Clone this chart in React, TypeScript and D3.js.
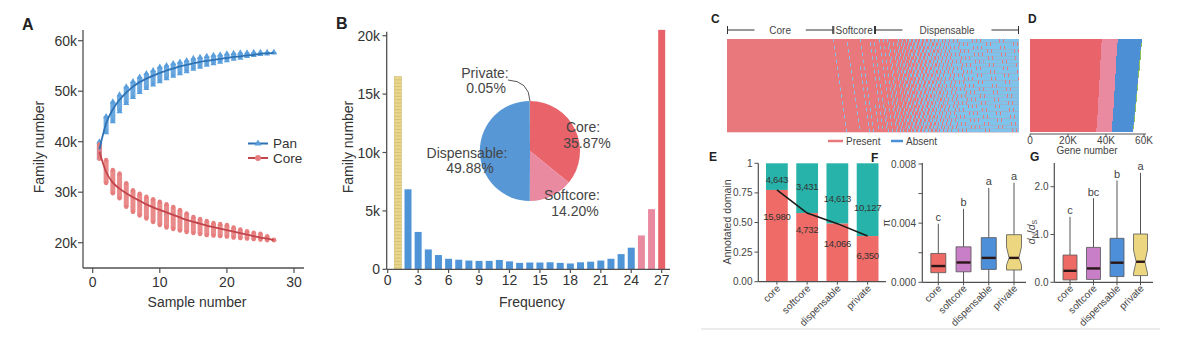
import React from 'react';
import * as d3 from 'd3';

const FONT = '"Liberation Sans", Arial, Helvetica, sans-serif';

// ---------- Panel A: pan / core family accumulation ----------
const sampleNumbers = [1,2,3,4,5,6,7,8,9,10,11,12,13,14,15,16,17,18,19,20,21,22,23,24,25,26,27];
const panMeanK = [38.5,43.6,46.4,48.3,49.7,50.9,51.8,52.5,53.1,53.6,54.1,54.5,54.9,55.2,55.5,55.8,56.0,56.2,56.4,56.6,56.8,56.9,57.1,57.2,57.4,57.5,57.6];
const panLoK = [36.8,41.8,44.0,46.0,47.6,48.8,49.8,50.6,51.3,51.9,52.5,53.0,53.5,53.9,54.4,54.8,55.2,55.5,55.8,56.1,56.4,56.6,56.9,57.1,57.3,57.4,57.6];
const panHiK = [40.0,45.0,47.9,49.3,50.9,51.9,52.8,53.5,54.1,54.8,55.1,55.5,55.8,56.1,56.5,56.7,56.9,57.1,57.2,57.4,57.5,57.6,57.6,57.7,57.7,57.7,57.7];
const coreMeanK = [38.0,34.0,31.9,30.7,29.8,29.0,28.3,27.6,27.0,26.5,26.0,25.5,25.0,24.5,24.1,23.8,23.4,23.1,22.8,22.5,22.2,21.9,21.6,21.3,21.0,20.8,20.5];
const coreLoK = [36.6,31.8,29.8,28.8,27.1,26.1,25.4,24.8,24.1,23.5,23.0,22.7,22.4,22.1,21.9,21.7,21.5,21.4,21.3,21.2,21.0,20.9,20.8,20.7,20.6,20.5,20.5];
const coreHiK = [39.5,36.4,34.4,33.7,31.8,30.4,29.7,29.1,28.6,28.1,27.6,27.1,26.5,25.8,25.1,24.7,24.3,23.9,23.7,23.5,23.0,22.6,22.3,22.0,21.8,21.3,20.6];
const aYTicks = [20000, 30000, 40000, 50000, 60000];
const aXTicks = [0, 10, 20, 30];

// ---------- Panel B: frequency histogram + pie ----------
const frequencies = [1,2,3,4,5,6,7,8,9,10,11,12,13,14,15,16,17,18,19,20,21,22,23,24,25,26,27];
const familyCounts = [16500,6850,3200,1700,1220,900,820,750,720,720,800,680,550,580,580,600,550,500,600,650,750,900,1300,1850,2900,5150,20500];
const bXTicks = [0,3,6,9,12,15,18,21,24,27];
const bYTicks = [0,5000,10000,15000,20000];
const pieNames = ['Core','Softcore','Dispensable','Private'];
const piePercents = [35.87, 14.20, 49.88, 0.05];

// ---------- Panel C ----------
const groupNames = ['Core','Softcore','Dispensable'];
const heatLegend = ['Present','Absent'];

// ---------- Panel D: gene numbers per sample (K) ----------
const dCoreK = [37.8,37.6,37.5,37.5,37.3,37.2,37.1,37.0,36.9,36.8,36.8,36.6,36.5,36.4,36.3,36.2,36.1,36.0,35.9,35.8,35.7,35.6,35.4,35.3,35.1,35.0,34.8];
const dSoftK = [8.4,8.3,8.4,8.2,8.3,8.3,8.2,8.3,8.2,8.3,8.1,8.2,8.2,8.3,8.2,8.2,8.3,8.2,8.2,8.3,8.2,8.2,8.3,8.2,8.3,8.2,8.3];
const dDispK = [12.6,12.5,12.4,12.4,12.3,12.3,12.2,12.1,12.1,12.0,12.0,11.9,11.9,11.8,11.7,11.7,11.6,11.6,11.5,11.4,11.4,11.3,11.2,11.2,11.1,11.0,10.9];
const dPrivK = [0.3,0.4,0.3,0.5,0.3,0.4,0.3,0.4,0.5,0.3,0.4,0.3,0.4,0.3,0.5,0.4,0.3,0.4,0.3,0.4,0.5,0.3,0.4,0.3,0.4,0.3,0.4];
const dTicks = [0, 20, 40, 60];

// ---------- Panel E ----------
const categories = ['core','softcore','dispensable','private'];
const withDomain = [15980, 4732, 14066, 6350];
const withoutDomain = [4643, 3431, 14613, 10127];
const eTicks = [0, 0.25, 0.5, 0.75, 1];
const eTickLabels = ['0.00','0.25','0.50','0.75','1'];

// ---------- Panel F: pi ----------
const piLow = [0, 0, 0, 0];
const piQ1 = [0.00065, 0.00071, 0.00087, 0.00083];
const piMedian = [0.0011, 0.00134, 0.00165, 0.00165];
const piQ3 = [0.00195, 0.0024, 0.00302, 0.00322];
const piHigh = [0.00396, 0.00497, 0.00638, 0.00673];
const piNotchLo = [null, null, null, 0.00116];
const piNotchHi = [null, null, null, 0.0024];
const piLetters = ['c','b','a','a'];

// ---------- Panel G: dN/dS ----------
const gLow = [0, 0, 0, 0];
const gQ1 = [0.05, 0.06, 0.12, 0.14];
const gMedian = [0.24, 0.29, 0.41, 0.43];
const gQ3 = [0.57, 0.73, 0.92, 1.01];
const gHigh = [1.37, 1.76, 2.13, 2.29];
const gNotchLo = [null, null, null, 0.19];
const gNotchHi = [null, null, null, 0.675];
const gLetters = ['c','bc','b','a'];

const catColors = ['#ee6a64', '#c97fc8', '#4d8fd8', '#ecd780'];

const AX = '#505050';
const TX = '#333';

function BoxPanel(props: any) {
  const { y, xs, low, q1, med, q3, high, nlo, nhi, letters, bw, axisX, axisTop, axisRight } = props;
  const base = y(0);
  return (
    <g>
      {categories.map((c, i) => {
        const cx = xs(c);
        const x0 = cx - bw / 2, x1 = cx + bw / 2;
        const notched = nlo[i] != null;
        const inset = 2.6;
        let d;
        if (notched) {
          d = `M${x0},${y(q3[i])}H${x1}V${y(nhi[i])}L${x1 - inset},${y(med[i])}L${x1},${y(nlo[i])}V${y(q1[i])}H${x0}V${y(nlo[i])}L${x0 + inset},${y(med[i])}L${x0},${y(nhi[i])}Z`;
        } else {
          d = `M${x0},${y(q3[i])}H${x1}V${y(q1[i])}H${x0}Z`;
        }
        return (
          <g key={c}>
            <line x1={cx} x2={cx} y1={y(high[i])} y2={y(q3[i])} stroke="#555" strokeWidth={1} />
            <line x1={cx} x2={cx} y1={y(q1[i])} y2={y(low[i])} stroke="#555" strokeWidth={1} />
            <path d={d} fill={catColors[i]} stroke="#555" strokeWidth={0.8} />
            <line x1={notched ? x0 + inset : x0 + 0.5} x2={notched ? x1 - inset : x1 - 0.5} y1={y(med[i])} y2={y(med[i])} stroke="#2a1616" strokeWidth={2.4} />
            <text x={cx} y={y(high[i]) - 2.5} textAnchor="middle" fontSize={11} fill="#444">{letters[i]}</text>
            <line x1={cx} x2={cx} y1={base} y2={base + 3} stroke={AX} />
            <text transform={`translate(${cx + 4},${289}) rotate(-45)`} textAnchor="end" fontSize={10} fill="#444">{c}</text>
          </g>
        );
      })}
      <line x1={axisX} x2={axisX} y1={axisTop} y2={base} stroke={AX} strokeWidth={1.2} />
      <line x1={axisX} x2={axisRight} y1={base} y2={base} stroke={AX} strokeWidth={1.2} />
    </g>
  );
}

export default function App() {
  // ---------------- A ----------------
  const xA = d3.scaleLinear().domain([0, 30]).range([92.7, 294]);
  const yA = d3.scaleLinear().domain([20000, 60000]).range([242.7, 40.7]);
  const lineA = (vals: number[]) =>
    d3.line<number>().x((_, i) => xA(sampleNumbers[i])).y((v) => yA(v * 1000)).curve(d3.curveMonotoneX)(vals) || '';
  const tri = d3.symbol(d3.symbolTriangle, 16)() || '';
  const triLeg = d3.symbol(d3.symbolTriangle, 22)() || '';
  const panPt = '#5a9fdc', panLn = '#2d72b4', corePt = '#e77e7e', coreLn = '#c2444b';

  // ---------------- B ----------------
  const xB = d3.scaleLinear().domain([0, 27]).range([387.7, 661.7]);
  const yB = d3.scaleLinear().domain([0, 20000]).range([269.3, 35.7]);
  const barW = 7;
  const freqColor = (f: number) => (f === 1 ? '#e9d78c' : f <= 24 ? '#4f94d6' : f <= 26 ? '#e98aa1' : '#e8626a');
  const pieData = d3.pie<number>().sort(null)(piePercents);
  const arcB = d3.arc<d3.PieArcDatum<number>>().innerRadius(0).outerRadius(50);
  const pieCol = ['#e8636a', '#e98aa1', '#5797d6', '#eed98a'];
  const pcx = 530, pcy = 151;

  // ---------------- C ----------------
  const heatFreqs = frequencies.filter((f) => f >= 2).sort((a, b) => b - a);
  let cum = 0;
  const bins = heatFreqs.map((f) => {
    const c = familyCounts[f - 1];
    const b = { f, x0: cum, x1: cum + c };
    cum += c;
    return b;
  });
  const xC = d3.scaleLinear().domain([0, cum]).range([727, 1019]);
  const nRows = sampleNumbers.length;
  const yC = d3.scaleBand<number>().domain(sampleNumbers).range([39, 132.3]);
  const rowPaths: string[] = sampleNumbers.map((s, r) => {
    const segs: [number, number][] = [];
    bins.forEach((b) => {
      const px0 = xC(b.x0), px1 = xC(b.x1);
      for (let j = Math.floor(px0); j < Math.ceil(px1); j++) {
        const a = Math.max(px0, j), e = Math.min(px1, j + 1);
        if (e <= a) continue;
        if ((10 * r + 7 * j) % nRows >= b.f) {
          const last = segs[segs.length - 1];
          if (last && Math.abs(last[1] - a) < 1e-6) last[1] = e;
          else segs.push([a, e]);
        }
      }
    });
    const y0 = yC(s)!, y1 = y0 + yC.bandwidth();
    return segs.map(([a, e]) => `M${a},${y0}H${e}V${y1}H${a}Z`).join('');
  });
  const groupBounds = [
    [bins.find((b) => b.f === 27)!.x0, bins.find((b) => b.f === 27)!.x1],
    [bins.find((b) => b.f === 26)!.x0, bins.find((b) => b.f === 25)!.x1],
    [bins.find((b) => b.f === 24)!.x0, bins.find((b) => b.f === 2)!.x1],
  ];

  // ---------------- D ----------------
  const xD = d3.scaleLinear().domain([0, 60]).range([1030, 1144]);
  const yD = d3.scaleBand<number>().domain(sampleNumbers).range([39.3, 131.7]);
  const dCols = ['#e8646a', '#e98aa1', '#4d8fd5', '#8cbf5c'];

  // ---------------- E ----------------
  const xE = d3.scaleBand<string>().domain(categories).range([758.3, 886.2]).paddingInner(0.28).paddingOuter(0.255);
  const yE = d3.scaleLinear().domain([0, 1]).range([281.7, 163.3]);
  const fracs = withDomain.map((w, i) => w / (w + withoutDomain[i]));
  const lineE = d3.line<number>().x((_, i) => xE(categories[i])! + xE.bandwidth() / 2).y((v) => yE(v))(fracs) || '';
  const fmt = d3.format(',');
  const eTopOffset = [-7.4, -23, -21.4, -25.4];
  const eBotOffset = [30, 20.3, 23.6, 23.2];

  // ---------------- F / G ----------------
  const yF = d3.scaleLinear().domain([0, 0.008]).range([282.3, 164]);
  const xF = d3.scalePoint<string>().domain(categories).range([938.3, 1014]);
  const yG = d3.scaleLinear().domain([0, 2.5]).range([282.3, 162.8]);
  const xG = d3.scalePoint<string>().domain(categories).range([1070, 1140.5]);

  return (
    <svg width={1197} height={356} style={{ position: 'absolute', left: 0, top: 0, background: '#fff' }} fontFamily={FONT}>
      <rect width={1197} height={356} fill="#fff" />
      {/* ================= A ================= */}
      <text x={22} y={30} fontSize={16} fontWeight="bold" fill="#222">A</text>
      {sampleNumbers.map((n, i) => (
        <g key={'pa' + n}>
          <rect x={xA(n) - 2.5} width={5} y={yA(panHiK[i] * 1000)} height={Math.max(1.5, yA(panLoK[i] * 1000) - yA(panHiK[i] * 1000))} fill={panPt} opacity={0.9} />
          <path d={tri} transform={`translate(${xA(n)},${yA(panLoK[i] * 1000)})`} fill={panPt} />
          <path d={tri} transform={`translate(${xA(n)},${yA(panHiK[i] * 1000)})`} fill={panPt} />
        </g>
      ))}
      {sampleNumbers.map((n, i) => (
        <g key={'ca' + n}>
          <rect x={xA(n) - 2.5} width={5} y={yA(coreHiK[i] * 1000)} height={Math.max(1.5, yA(coreLoK[i] * 1000) - yA(coreHiK[i] * 1000))} fill={corePt} opacity={0.9} />
          <circle cx={xA(n)} cy={yA(coreLoK[i] * 1000)} r={2.2} fill={corePt} />
          <circle cx={xA(n)} cy={yA(coreHiK[i] * 1000)} r={2.2} fill={corePt} />
        </g>
      ))}
      <path d={lineA(panMeanK)} fill="none" stroke={panLn} strokeWidth={1.8} />
      <path d={lineA(coreMeanK)} fill="none" stroke={coreLn} strokeWidth={1.8} />
      <line x1={83} x2={83} y1={30} y2={268} stroke={AX} strokeWidth={1.3} />
      <line x1={83} x2={304} y1={268} y2={268} stroke={AX} strokeWidth={1.3} />
      {aYTicks.map((t) => (
        <g key={'ayt' + t}>
          <line x1={78} x2={83} y1={yA(t)} y2={yA(t)} stroke={AX} strokeWidth={1.2} />
          <text x={77} y={yA(t) + 5} textAnchor="end" fontSize={14} fill={TX}>{t / 1000 + 'k'}</text>
        </g>
      ))}
      {aXTicks.map((t) => (
        <g key={'axt' + t}>
          <line x1={xA(t)} x2={xA(t)} y1={268} y2={273} stroke={AX} strokeWidth={1.2} />
          <text x={xA(t)} y={287} textAnchor="middle" fontSize={14} fill={TX}>{t}</text>
        </g>
      ))}
      <text x={197} y={307} textAnchor="middle" fontSize={14} fill={TX}>Sample number</text>
      <text transform="translate(44,147) rotate(-90)" textAnchor="middle" fontSize={14} fill={TX}>Family number</text>
      <line x1={248} x2={268} y1={143.5} y2={143.5} stroke={panLn} strokeWidth={2} />
      <path d={triLeg} transform="translate(258,143.5)" fill={panPt} />
      <text x={273} y={148} fontSize={13.5} fill={TX}>Pan</text>
      <line x1={248} x2={268} y1={158} y2={158} stroke={coreLn} strokeWidth={2} />
      <circle cx={258} cy={158} r={3} fill={corePt} />
      <text x={273} y={163} fontSize={13.5} fill={TX}>Core</text>

      {/* ================= B ================= */}
      <text x={336} y={29} fontSize={16} fontWeight="bold" fill="#222">B</text>
      {frequencies.map((f, i) => {
        const x = xB(f) - barW / 2;
        const y = yB(familyCounts[i]);
        const h = yB(0) - y;
        return (
          <g key={'bb' + f}>
            <rect x={x} y={y} width={barW} height={h} fill={freqColor(f)} />
            {f === 1 &&
              d3.range(y + 3.3, yB(0), 3.3).map((yy) => (
                <line key={yy} x1={x} x2={x + barW} y1={yy} y2={yy} stroke="#c7b266" strokeWidth={0.6} />
              ))}
            {f === 1 && <rect x={x} y={y} width={barW} height={h} fill="none" stroke="#cdb96e" strokeWidth={0.6} />}
          </g>
        );
      })}
      <line x1={386.7} x2={386.7} y1={31.7} y2={269.3} stroke={AX} strokeWidth={1.3} />
      <line x1={386.7} x2={670} y1={269.3} y2={269.3} stroke={AX} strokeWidth={1.3} />
      {bYTicks.map((t) => (
        <g key={'byt' + t}>
          <line x1={382.5} x2={386.7} y1={yB(t)} y2={yB(t)} stroke={AX} strokeWidth={1.2} />
          <text x={380} y={yB(t) + 5} textAnchor="end" fontSize={14} fill={TX}>{t === 0 ? '0' : t / 1000 + 'k'}</text>
        </g>
      ))}
      {bXTicks.map((t) => (
        <g key={'bxt' + t}>
          <line x1={xB(t)} x2={xB(t)} y1={269.3} y2={273} stroke={AX} strokeWidth={1.2} />
          <text x={xB(t)} y={284.5} textAnchor="middle" fontSize={14} fill={TX}>{t}</text>
        </g>
      ))}
      <text x={532} y={307} textAnchor="middle" fontSize={14} fill={TX}>Frequency</text>
      <text transform="translate(353,147) rotate(-90)" textAnchor="middle" fontSize={14} fill={TX}>Family number</text>
      <g transform={`translate(${pcx},${pcy})`}>
        {pieData.map((p, i) => (
          <path key={'pie' + i} d={arcB(p) || ''} fill={pieCol[i]} />
        ))}
      </g>
      <path d={`M${pcx - 22},${pcy - 71} Q${pcx - 1},${pcy - 70} ${pcx},${pcy - 50}`} fill="none" stroke="#555" strokeWidth={1} />
      <g fontSize={14} fill="#454545" textAnchor="middle">
        <text x={pcx - 45} y={pcy - 73}>{pieNames[3] + ':'}</text>
        <text x={pcx - 44} y={pcy - 58}>{piePercents[3].toFixed(2) + '%'}</text>
        <text x={pcx + 53} y={pcy - 19}>{pieNames[0] + ':'}</text>
        <text x={pcx + 57} y={pcy - 3}>{piePercents[0].toFixed(2) + '%'}</text>
        <text x={pcx - 63} y={pcy + 7}>{pieNames[2] + ':'}</text>
        <text x={pcx - 60} y={pcy + 22}>{piePercents[2].toFixed(2) + '%'}</text>
        <text x={pcx + 42} y={pcy + 49}>{pieNames[1] + ':'}</text>
        <text x={pcx + 45} y={pcy + 65}>{piePercents[1].toFixed(2) + '%'}</text>
      </g>

      {/* ================= C ================= */}
      <text x={711} y={23} fontSize={12} fontWeight="bold" fill="#222">C</text>
      <rect x={xC(0)} y={39} width={xC(cum) - xC(0)} height={132.3 - 39} fill="#e8787c" />
      {rowPaths.map((d, i) => (
        <path key={'hr' + i} d={d} fill="#7fc3ea" />
      ))}
      {groupNames.map((g, i) => {
        const gx0 = xC(groupBounds[i][0]) + 0.5, gx1 = xC(groupBounds[i][1]) - 0.5;
        const cx = (gx0 + gx1) / 2;
        const long = gx1 - gx0 > 80;
        return (
          <g key={'grp' + g}>
            <line x1={gx0} x2={gx0} y1={26} y2={34} stroke="#333" strokeWidth={1} />
            <line x1={gx1} x2={gx1} y1={26} y2={34} stroke="#333" strokeWidth={1} />
            {long && <line x1={gx0} x2={gx0 + 27} y1={30} y2={30} stroke="#333" strokeWidth={1} />}
            {long && <line x1={gx1 - 27} x2={gx1} y1={30} y2={30} stroke="#333" strokeWidth={1} />}
            <text x={cx} y={33.5} textAnchor="middle" fontSize={10} fill="#444">{g}</text>
          </g>
        );
      })}
      <line x1={828} x2={843} y1={141} y2={141} stroke="#e8787c" strokeWidth={2.5} />
      <text x={846} y={144.5} fontSize={10} fill="#444">{heatLegend[0]}</text>
      <line x1={891} x2={903} y1={141} y2={141} stroke="#4a8fd6" strokeWidth={2.5} />
      <text x={906} y={144.5} fontSize={10} fill="#444">{heatLegend[1]}</text>

      {/* ================= D ================= */}
      <text x={1028} y={23} fontSize={12} fontWeight="bold" fill="#222">D</text>
      <g shapeRendering="crispEdges">
        {sampleNumbers.map((s, i) => {
          const parts = [dCoreK[i], dSoftK[i], dDispK[i], dPrivK[i]];
          let acc = 0;
          return (
            <g key={'dr' + s}>
              {parts.map((v, k) => {
                const x0 = xD(acc);
                acc += v;
                return <rect key={k} x={x0} y={yD(s)!} width={xD(acc) - x0 + (k < 3 ? 0.5 : 0)} height={yD.bandwidth() + 0.6} fill={dCols[k]} />;
              })}
            </g>
          );
        })}
      </g>
      <line x1={1030} x2={1146} y1={134} y2={134} stroke={AX} strokeWidth={1} />
      {dTicks.map((t) => (
        <g key={'dt' + t}>
          <line x1={xD(t)} x2={xD(t)} y1={134} y2={136.5} stroke={AX} />
          <text x={xD(t)} y={144} textAnchor="middle" fontSize={10} fill="#444">{t === 0 ? '0' : t + 'K'}</text>
        </g>
      ))}
      <text x={1087} y={153.5} textAnchor="middle" fontSize={10} fill="#444">Gene number</text>

      {/* ================= E ================= */}
      <text x={709} y={161} fontSize={12} fontWeight="bold" fill="#222">E</text>
      {categories.map((c, i) => {
        const x = xE(c)!, w = xE.bandwidth();
        return (
          <g key={'e' + c}>
            <rect x={x} y={yE(1)} width={w} height={yE(fracs[i]) - yE(1)} fill="#27b3aa" />
            <rect x={x} y={yE(fracs[i])} width={w} height={yE(0) - yE(fracs[i])} fill="#ef6b67" />
            <line x1={x + w / 2} x2={x + w / 2} y1={yE(0)} y2={yE(0) + 3} stroke={AX} />
            <text transform={`translate(${x + w / 2 + 4},${289}) rotate(-45)`} textAnchor="end" fontSize={10} fill="#444">{c}</text>
          </g>
        );
      })}
      <path d={lineE} fill="none" stroke="#1b1b1b" strokeWidth={1.6} />
      {categories.map((c, i) => {
        const cx = xE(c)! + xE.bandwidth() / 2;
        return (
          <g key={'el' + c} fontSize={9.5} fill="#333" textAnchor="middle" letterSpacing={-0.3}>
            <text x={cx} y={yE(fracs[i]) + eTopOffset[i]}>{fmt(withoutDomain[i])}</text>
            <text x={cx} y={yE(fracs[i]) + eBotOffset[i]}>{fmt(withDomain[i])}</text>
          </g>
        );
      })}
      <line x1={758.3} x2={758.3} y1={163.3} y2={281.7} stroke={AX} strokeWidth={1.2} />
      <line x1={758.3} x2={886} y1={281.7} y2={281.7} stroke={AX} strokeWidth={1.2} />
      {eTicks.map((t, i) => (
        <g key={'et' + t}>
          <line x1={754.5} x2={758.3} y1={yE(t)} y2={yE(t)} stroke={AX} />
          <text x={752.5} y={yE(t) + 3.5} textAnchor="end" fontSize={10} fill="#444">{eTickLabels[i]}</text>
        </g>
      ))}
      <text transform="translate(731,222) rotate(-90)" textAnchor="middle" fontSize={10.5} fill="#444">Annotated domain</text>

      {/* ================= F ================= */}
      <text x={871} y={161.5} fontSize={12} fontWeight="bold" fill="#222">F</text>
      <BoxPanel y={yF} xs={xF} low={piLow} q1={piQ1} med={piMedian} q3={piQ3} high={piHigh} nlo={piNotchLo} nhi={piNotchHi} letters={piLetters} bw={15} axisX={922.3} axisTop={163} axisRight={1026} />
      {[0, 0.002, 0.004, 0.006, 0.008].map((t, k) => (
        <g key={'ft' + t}>
          <line x1={918.5} x2={922.3} y1={yF(t)} y2={yF(t)} stroke={AX} />
          {k % 2 === 0 ? (
            <text x={916} y={yF(t) + 3.5} textAnchor="end" fontSize={10} fill="#444">{d3.format('.3f')(t)}</text>
          ) : null}
        </g>
      ))}
      <text transform="translate(890,223) rotate(-90)" textAnchor="middle" fontSize={11} fill="#444">π</text>

      {/* ================= G ================= */}
      <text x={1030} y={161} fontSize={12} fontWeight="bold" fill="#222">G</text>
      <BoxPanel y={yG} xs={xG} low={gLow} q1={gQ1} med={gMedian} q3={gQ3} high={gHigh} nlo={gNotchLo} nhi={gNotchHi} letters={gLetters} bw={14} axisX={1054.3} axisTop={163} axisRight={1153} />
      {[0, 1, 2].map((t) => (
        <g key={'gt' + t}>
          <line x1={1050.5} x2={1054.3} y1={yG(t)} y2={yG(t)} stroke={AX} />
          <text x={1048.5} y={yG(t) + 3.5} textAnchor="end" fontSize={10} fill="#444">{t.toFixed(1)}</text>
        </g>
      ))}
      <text transform="translate(1035,232) rotate(-90)" textAnchor="middle" fontSize={10.5} fill="#444">
        <tspan fontStyle="italic">d</tspan>
        <tspan fontSize={7} dy={2}>N</tspan>
        <tspan dy={-2}>/</tspan>
        <tspan fontStyle="italic">d</tspan>
        <tspan fontSize={7} dy={2}>S</tspan>
      </text>

      <line x1={701} x2={1160} y1={329} y2={329} stroke="#ebebeb" strokeWidth={2} />
    </svg>
  );
}
